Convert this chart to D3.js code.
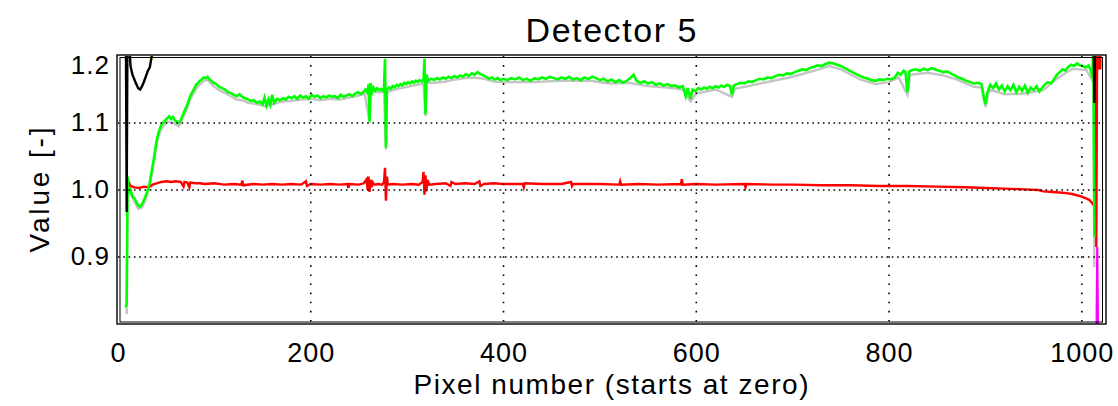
<!DOCTYPE html>
<html>
<head>
<meta charset="utf-8">
<script src="https://cdn.jsdelivr.net/npm/d3@7"></script>
<style>
  body { margin: 0; background: #fff; }
  text { font-family: "Liberation Sans", Arial, sans-serif; fill: #000; }
</style>
</head>
<body>
<svg class="chart"></svg>
<script>
// tick values
const xTicks = [0, 200, 400, 600, 800, 1000];
const yTicks = [0.9, 1.0, 1.1, 1.2];
const xGrid = [200, 400, 600, 800, 1000];
const yGrid = [0.9, 1.0, 1.1];

// series, [pixel, value]
const grayPts = [[9, 0.815], [10, 1.014], [13, 0.995], [17, 0.983], [21, 0.972], [25, 0.974], [29, 0.987], [33, 1.007],
  [37, 1.04], [41, 1.075], [45, 1.092], [51, 1.102], [55, 1.101], [59, 1.099], [63, 1.095], [67, 1.106], [71, 1.119],
  [75, 1.135], [79, 1.146], [83, 1.155], [89, 1.163], [93, 1.164], [99, 1.155], [105, 1.149], [111, 1.145], [117, 1.14],
  [123, 1.135], [129, 1.134], [135, 1.13], [141, 1.129], [147, 1.127], [153, 1.125], [160, 1.128], [170, 1.132],
  [180, 1.133], [190, 1.135], [200, 1.136], [210, 1.134], [220, 1.136], [230, 1.135], [240, 1.138], [250, 1.141],
  [256, 1.144], [261, 1.1], [262, 1.15], [270, 1.146], [276, 1.147], [278, 1.06], [279, 1.146], [290, 1.151],
  [300, 1.154], [310, 1.157], [317, 1.159], [319, 1.11], [320, 1.16], [330, 1.16], [340, 1.162], [350, 1.165],
  [360, 1.167], [370, 1.168], [380, 1.166], [390, 1.162], [400, 1.161], [430, 1.161], [460, 1.163], [490, 1.163],
  [510, 1.159], [530, 1.16], [550, 1.155], [570, 1.153], [586, 1.15], [594, 1.132], [600, 1.144], [620, 1.15],
  [637, 1.139], [640, 1.151], [660, 1.157], [680, 1.163], [700, 1.169], [720, 1.177], [738, 1.185], [750, 1.18],
  [770, 1.165], [786, 1.158], [800, 1.161], [810, 1.168], [819, 1.142], [822, 1.172], [840, 1.175], [856, 1.171],
  [870, 1.165], [888, 1.154], [896, 1.153], [900, 1.124], [904, 1.15], [920, 1.143], [940, 1.144], [960, 1.149],
  [975, 1.167], [990, 1.181], [1005, 1.179], [1011, 1.163], [1012, 1.2], [1013, 0.885]];

const greenPts = [[8, 0.825], [9, 0.83], [10, 1.02], [11, 0.996], [13, 1.0], [15, 0.99], [17, 0.988], [19, 0.982],
  [21, 0.977], [23, 0.975], [25, 0.979], [27, 0.985], [29, 0.992], [31, 1.0], [33, 1.012], [35, 1.028], [37, 1.045],
  [39, 1.065], [41, 1.08], [43, 1.09], [45, 1.097], [47, 1.101], [49, 1.104], [51, 1.107], [53, 1.11], [55, 1.106],
  [57, 1.109], [59, 1.104], [61, 1.102], [63, 1.1], [65, 1.104], [67, 1.111], [69, 1.118], [71, 1.124], [73, 1.132],
  [75, 1.14], [77, 1.146], [79, 1.151], [81, 1.157], [83, 1.16], [85, 1.163], [87, 1.165], [89, 1.168], [91, 1.167],
  [93, 1.169], [95, 1.165], [97, 1.163], [99, 1.16], [102, 1.158], [105, 1.154], [108, 1.152], [111, 1.15], [114, 1.146],
  [117, 1.145], [120, 1.142], [123, 1.14], [126, 1.143], [129, 1.139], [132, 1.137], [135, 1.135], [138, 1.133],
  [141, 1.134], [144, 1.13], [147, 1.132], [150, 1.128], [152, 1.138], [154, 1.126], [156, 1.135], [158, 1.127],
  [160, 1.142], [162, 1.13], [165, 1.136], [168, 1.134], [171, 1.137], [174, 1.135], [177, 1.139], [180, 1.137],
  [183, 1.14], [186, 1.136], [189, 1.141], [192, 1.138], [195, 1.14], [198, 1.136], [201, 1.142], [204, 1.139],
  [207, 1.141], [210, 1.137], [213, 1.14], [216, 1.138], [219, 1.141], [222, 1.139], [225, 1.14], [228, 1.137],
  [231, 1.142], [234, 1.139], [237, 1.141], [240, 1.143], [243, 1.14], [246, 1.144], [249, 1.146], [252, 1.143],
  [255, 1.147], [257, 1.15], [259, 1.145], [260, 1.158], [261, 1.102], [262, 1.16], [263, 1.142], [265, 1.153],
  [267, 1.148], [269, 1.152], [271, 1.149], [273, 1.151], [275, 1.148], [276, 1.153], [277, 1.196], [278, 1.063],
  [279, 1.15], [281, 1.153], [283, 1.151], [285, 1.155], [287, 1.153], [289, 1.157], [291, 1.155], [293, 1.158],
  [295, 1.156], [297, 1.16], [299, 1.158], [301, 1.161], [303, 1.159], [305, 1.162], [307, 1.16], [309, 1.163],
  [311, 1.161], [313, 1.164], [315, 1.162], [317, 1.165], [318, 1.196], [319, 1.113], [320, 1.172], [322, 1.163],
  [325, 1.166], [328, 1.164], [331, 1.167], [334, 1.165], [337, 1.168], [340, 1.166], [343, 1.169], [346, 1.167],
  [349, 1.17], [352, 1.168], [355, 1.171], [358, 1.169], [361, 1.173], [364, 1.17], [367, 1.174], [370, 1.172],
  [373, 1.176], [376, 1.173], [379, 1.171], [382, 1.169], [385, 1.166], [388, 1.168], [391, 1.165], [394, 1.167],
  [397, 1.164], [400, 1.166], [404, 1.164], [408, 1.167], [412, 1.165], [416, 1.168], [420, 1.164], [424, 1.166],
  [428, 1.163], [432, 1.167], [436, 1.165], [440, 1.168], [444, 1.166], [448, 1.169], [452, 1.167], [456, 1.165],
  [460, 1.168], [464, 1.166], [468, 1.169], [472, 1.165], [476, 1.167], [480, 1.164], [484, 1.168], [488, 1.166],
  [492, 1.169], [496, 1.167], [500, 1.164], [504, 1.166], [508, 1.162], [512, 1.165], [516, 1.161], [520, 1.164],
  [524, 1.16], [528, 1.163], [532, 1.168], [535, 1.172], [538, 1.163], [542, 1.16], [546, 1.162], [550, 1.159],
  [554, 1.161], [558, 1.157], [562, 1.159], [566, 1.156], [570, 1.158], [574, 1.155], [578, 1.156], [582, 1.153],
  [586, 1.155], [589, 1.14], [591, 1.152], [594, 1.136], [596, 1.15], [599, 1.148], [602, 1.152], [605, 1.15],
  [608, 1.153], [611, 1.151], [614, 1.154], [617, 1.152], [620, 1.155], [623, 1.153], [626, 1.156], [629, 1.154],
  [632, 1.157], [635, 1.155], [637, 1.142], [639, 1.156], [642, 1.158], [646, 1.16], [650, 1.159], [654, 1.162],
  [658, 1.161], [662, 1.164], [666, 1.166], [670, 1.165], [674, 1.168], [678, 1.167], [682, 1.17], [686, 1.172],
  [690, 1.171], [694, 1.174], [698, 1.173], [702, 1.176], [706, 1.178], [710, 1.18], [714, 1.179], [718, 1.182],
  [722, 1.184], [726, 1.186], [730, 1.185], [734, 1.188], [738, 1.19], [742, 1.189], [746, 1.187], [750, 1.185],
  [754, 1.182], [758, 1.179], [762, 1.176], [766, 1.173], [770, 1.17], [774, 1.168], [778, 1.166], [782, 1.164],
  [786, 1.163], [790, 1.165], [794, 1.164], [798, 1.166], [802, 1.165], [806, 1.168], [809, 1.175], [812, 1.172],
  [815, 1.178], [817, 1.176], [819, 1.146], [821, 1.177], [824, 1.179], [828, 1.18], [832, 1.178], [836, 1.181],
  [840, 1.179], [844, 1.182], [848, 1.18], [852, 1.178], [856, 1.176], [860, 1.177], [864, 1.174], [868, 1.171],
  [872, 1.168], [876, 1.166], [880, 1.163], [884, 1.161], [888, 1.159], [892, 1.16], [896, 1.158], [898, 1.14],
  [900, 1.128], [902, 1.145], [905, 1.157], [908, 1.152], [911, 1.159], [914, 1.15], [917, 1.156], [920, 1.147],
  [923, 1.155], [926, 1.149], [929, 1.157], [932, 1.146], [935, 1.154], [938, 1.148], [941, 1.156], [944, 1.145],
  [947, 1.153], [950, 1.149], [953, 1.155], [956, 1.147], [959, 1.153], [962, 1.158], [965, 1.161], [968, 1.159],
  [971, 1.165], [974, 1.172], [977, 1.176], [980, 1.18], [983, 1.178], [986, 1.184], [989, 1.187], [992, 1.185],
  [995, 1.189], [998, 1.186], [1001, 1.185], [1004, 1.183], [1007, 1.186], [1009, 1.18], [1011, 1.168], [1012, 1.22],
  [1013, 0.93]];

const redPts = [[10, 0.998], [11, 1.012], [13, 1.006], [17, 1.004], [22, 1.003], [27, 1.005], [32, 1.004], [36, 1.008],
  [40, 1.01], [45, 1.012], [50, 1.013], [55, 1.012], [60, 1.013], [65, 1.012], [68, 1.005], [69, 1.012], [72, 1.011],
  [74, 1.004], [75, 1.011], [80, 1.01], [85, 1.01], [90, 1.009], [100, 1.01], [110, 1.008], [120, 1.009], [128, 1.008],
  [129, 1.014], [130, 1.007], [140, 1.009], [150, 1.008], [160, 1.009], [170, 1.008], [180, 1.009], [190, 1.008],
  [195, 1.013], [196, 1.006], [200, 1.009], [210, 1.008], [220, 1.009], [230, 1.008], [238, 1.009], [239, 1.003],
  [240, 1.009], [250, 1.008], [255, 1.01], [258, 1.016], [259, 1.0], [260, 1.02], [261, 0.997], [262, 1.015],
  [263, 1.004], [264, 1.012], [266, 1.008], [270, 1.009], [274, 1.008], [276, 1.012], [277, 1.033], [278, 0.984],
  [279, 1.02], [280, 1.008], [285, 1.009], [295, 1.008], [305, 1.009], [312, 1.008], [316, 1.012], [317, 1.027],
  [318, 0.993], [319, 1.022], [320, 0.998], [321, 1.015], [323, 1.008], [330, 1.009], [340, 1.01], [345, 1.006],
  [346, 1.012], [350, 1.009], [360, 1.01], [370, 1.009], [375, 1.013], [376, 1.006], [380, 1.009], [390, 1.01],
  [400, 1.009], [420, 1.009], [421, 1.004], [422, 1.01], [440, 1.009], [460, 1.009], [470, 1.012], [471, 1.006],
  [472, 1.009], [500, 1.009], [520, 1.008], [521, 1.013], [522, 1.008], [540, 1.009], [560, 1.008], [584, 1.009],
  [585, 1.016], [586, 1.008], [600, 1.009], [620, 1.008], [650, 1.009], [651, 1.004], [652, 1.009], [680, 1.008],
  [700, 1.008], [730, 1.007], [760, 1.007], [790, 1.006], [820, 1.006], [850, 1.005], [880, 1.004], [900, 1.003],
  [920, 1.002], [940, 1.001], [955, 1.0], [960, 0.998], [970, 0.997], [980, 0.996], [990, 0.994], [1000, 0.99],
  [1005, 0.987], [1008, 0.985], [1012, 0.978], [1013, 0.985], [1014, 1.25], [1015, 0.915], [1016, 1.25],
  [1017, 1.18], [1018, 1.25], [1019, 1.18], [1020, 1.25]];

const blackPts = [[0, 1.3], [8, 1.3], [9, 0.967], [10, 1.3], [12, 1.21], [13, 1.185], [15, 1.172], [17, 1.165],
  [19, 1.158], [21, 1.152], [23, 1.15], [25, 1.155], [27, 1.162], [29, 1.17], [31, 1.178], [33, 1.183], [35, 1.2],
  [36, 1.26], [38, 1.3], [1011, 1.3], [1012, 1.26], [1013, 1.13], [1014, 1.26], [1023, 1.3]];

const yellowPts = [[0, 1.3], [35, 1.3], [36, 1.194], [37, 1.3], [1023, 1.3]];
const magentaPts = [[10, 0.75], [1015, 0.75], [1016, 0.915], [1017, 0.75], [1023, 0.75]];

function chart() {
    const W = 1118, H = 406;
    const margin = {top: 56, right: 14, bottom: 82, left: 118},
        width = W - margin.left - margin.right,
        height = H - margin.top - margin.bottom;

    const root = d3.select(".chart")
        .attr("width", W)
        .attr("height", H);

    const svg = root.append("g")
        .attr("transform", `translate(${margin.left}, ${margin.top})`);

    const x = d3.scaleLinear().domain([0, 1023]).range([0, width]);
    const y = d3.scaleLinear().domain([0.8, 1.2]).range([height, 0]);

    svg.append("clipPath").attr("id", "clip")
        .append("rect").attr("width", width).attr("height", height);

    const line = d3.line().x(d => x(d[0])).y(d => y(d[1]));

    const series = [
        {pts: grayPts, color: "#c4c4c4", w: 2.4},
        {pts: magentaPts, color: "#ff00ff", w: 2.2},
        {pts: yellowPts, color: "#ffff00", w: 2.2},
        {pts: redPts, color: "#ff0000", w: 2.4},
        {pts: greenPts, color: "#00ff00", w: 2.6},
        {pts: blackPts, color: "#000000", w: 2.4}
    ];

    const plot = svg.append("g").attr("clip-path", "url(#clip)");
    plot.selectAll("path.s")
        .data(series)
        .join("path")
        .attr("class", "s")
        .attr("fill", "none")
        .attr("stroke", d => d.color)
        .attr("stroke-width", d => d.w)
        .attr("stroke-linejoin", "miter")
        .attr("d", d => line(d.pts));

    // dotted grid
    svg.selectAll("line.gy")
        .data(yGrid)
        .join("line")
        .attr("class", "gy")
        .attr("x1", 0).attr("x2", width)
        .attr("y1", d => y(d)).attr("y2", d => y(d))
        .attr("stroke", "#000")
        .attr("stroke-width", 1.6)
        .attr("stroke-dasharray", "1.6,3.7");

    svg.selectAll("line.gx")
        .data(xGrid)
        .join("line")
        .attr("class", "gx")
        .attr("x1", d => x(d)).attr("x2", d => x(d))
        .attr("y1", 0).attr("y2", height)
        .attr("stroke", "#000")
        .attr("stroke-width", 1.6)
        .attr("stroke-dasharray", "1.6,7.5");

    // double frame
    svg.append("rect")
        .attr("x", -1).attr("y", -1)
        .attr("width", width + 3).attr("height", height + 1)
        .attr("fill", "none").attr("stroke", "#000").attr("stroke-width", 1.4);
    svg.append("rect")
        .attr("x", 2).attr("y", 1.5)
        .attr("width", width - 3.5).attr("height", height - 3.5)
        .attr("fill", "none").attr("stroke", "#000").attr("stroke-width", 1);

    // axes
    const xAxis = svg.append("g")
        .attr("transform", `translate(0,${height})`)
        .call(d3.axisBottom(x).tickValues(xTicks).tickSize(0).tickPadding(19).tickFormat(d3.format("d")));
    xAxis.select(".domain").remove();
    xAxis.selectAll("text")
        .attr("font-size", 27)
        .attr("letter-spacing", 1)
        .style("font-family", "'Liberation Sans', Arial, sans-serif");

    const yAxis = svg.append("g")
        .call(d3.axisLeft(y).tickValues(yTicks).tickSize(0).tickPadding(8).tickFormat(d3.format(".1f")));
    yAxis.select(".domain").remove();
    yAxis.selectAll("text")
        .attr("font-size", 26)
        .attr("letter-spacing", 1)
        .style("font-family", "'Liberation Sans', Arial, sans-serif");
    // top label sits just inside the frame
    yAxis.selectAll(".tick")
        .attr("transform", d => `translate(0,${Math.max(y(d), 10)})`);

    root.append("text")
        .attr("x", margin.left + width / 2)
        .attr("y", 42)
        .attr("text-anchor", "middle")
        .attr("font-size", 34)
        .attr("textLength", 171)
        .text("Detector 5");

    root.append("text")
        .attr("x", margin.left + width / 2)
        .attr("y", 394)
        .attr("text-anchor", "middle")
        .attr("font-size", 28)
        .attr("textLength", 395)
        .text("Pixel number (starts at zero)");

    root.append("text")
        .attr("transform", `translate(49, 190) rotate(-90)`)
        .attr("text-anchor", "middle")
        .attr("font-size", 28)
        .attr("textLength", 125)
        .text("Value [-]");
}

chart();
</script>
</body>
</html>
